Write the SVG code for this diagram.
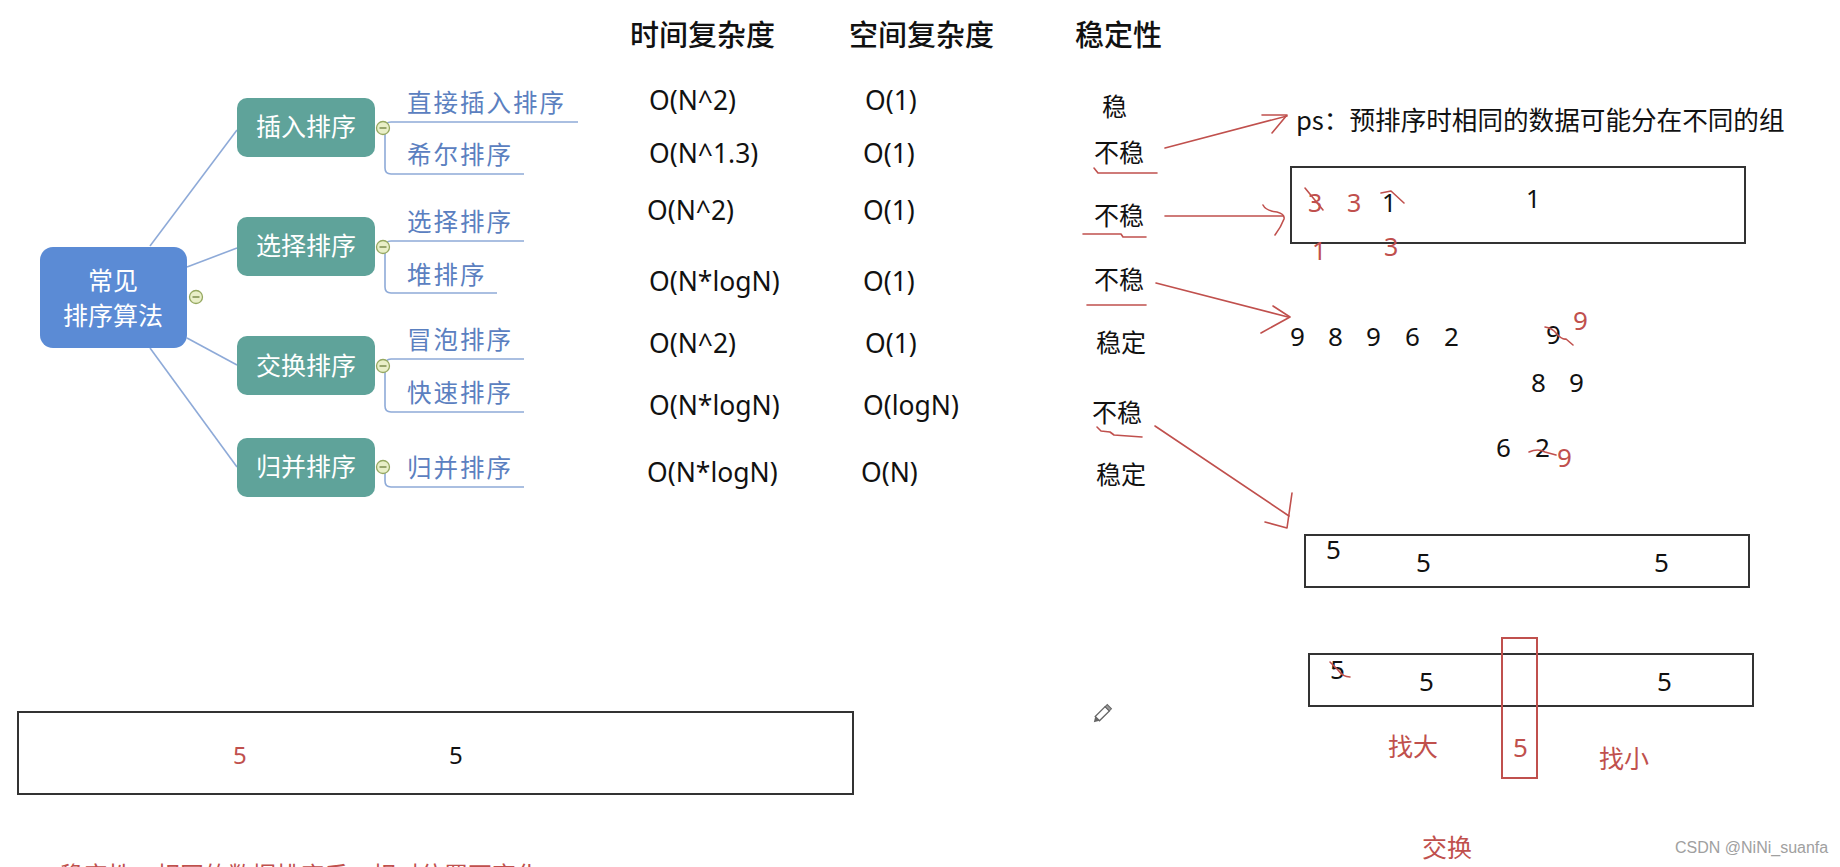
<svg xmlns="http://www.w3.org/2000/svg" width="1840" height="867" viewBox="0 0 1840 867">
<defs>
<style>
.cjk{font-family:"Noto Sans CJK SC","Noto Sans",sans-serif}
.lat{font-family:"Noto Sans","Noto Sans CJK SC",sans-serif}
.hdr{font-size:29px;fill:#111;font-weight:500}
.val{font-size:26.5px;fill:#111}
.stab{font-size:25px;fill:#111}
.root{fill:#5b8bd5}
.br{fill:#5fa39a}
.brt{font-size:25px;fill:#fff;text-anchor:middle}
.ch{font-size:24.5px;fill:#5b80c0;letter-spacing:2px}
.mm{fill:none;stroke:#8eaad8;stroke-width:1.6}
.tog{fill:#e9efc8;stroke:#95a860;stroke-width:1.3}
.togm{stroke:#6d7f3c;stroke-width:1.3}
.red{fill:none;stroke:#c0504d;stroke-width:1.6;stroke-linecap:round;stroke-linejoin:round}
.redt{fill:#c0504d}
.box{fill:none;stroke:#333;stroke-width:2}
.num{font-size:26px;fill:#111}
</style>
</defs>
<rect width="1840" height="867" fill="#fff"/>

<g id="connectors">
<path class="mm" d="M150,246 L237,130"/>
<path class="mm" d="M187,267 L237,248"/>
<path class="mm" d="M187,338 L237,365"/>
<path class="mm" d="M150,348 L237,467"/>
<path class="mm" d="M385,128 Q385,122 391,122 H578"/>
<path class="mm" d="M385,128 V168 Q385,174 391,174 H524"/>
<path class="mm" d="M385,247 Q385,241 391,241 H524"/>
<path class="mm" d="M385,247 V287 Q385,293 391,293 H497"/>
<path class="mm" d="M385,366 Q385,359 391,359 H524"/>
<path class="mm" d="M385,366 V406 Q385,412 391,412 H524"/>
<path class="mm" d="M385,467 V481 Q385,487 391,487 H524"/>
</g>

<g id="root">
<rect class="root" x="40" y="247" width="147" height="101" rx="13"/>
<text class="cjk brt" x="113" y="290">常见</text>
<text class="cjk brt" x="113" y="325">排序算法</text>
<circle class="tog" cx="196" cy="297" r="6.5"/><path class="togm" d="M192.5,297 H199.5"/>
</g>

<g id="n-insert">
<rect class="br" x="237" y="98" width="138" height="59" rx="10"/>
<text class="cjk brt" x="306" y="136">插入排序</text>
<circle class="tog" cx="383" cy="128" r="6.5"/><path class="togm" d="M379.5,128 H386.5"/>
</g>
<g id="n-select">
<rect class="br" x="237" y="217" width="138" height="59" rx="10"/>
<text class="cjk brt" x="306" y="255">选择排序</text>
<circle class="tog" cx="383" cy="247" r="6.5"/><path class="togm" d="M379.5,247 H386.5"/>
</g>
<g id="n-swap">
<rect class="br" x="237" y="336" width="138" height="59" rx="10"/>
<text class="cjk brt" x="306" y="375">交换排序</text>
<circle class="tog" cx="383" cy="366" r="6.5"/><path class="togm" d="M379.5,366 H386.5"/>
</g>
<g id="n-merge">
<rect class="br" x="237" y="438" width="138" height="59" rx="10"/>
<text class="cjk brt" x="306" y="476">归并排序</text>
<circle class="tog" cx="383" cy="467" r="6.5"/><path class="togm" d="M379.5,467 H386.5"/>
</g>

<g id="children">
<text class="cjk ch" x="407" y="112">直接插入排序</text>
<text class="cjk ch" x="407" y="164">希尔排序</text>
<text class="cjk ch" x="407" y="231">选择排序</text>
<text class="cjk ch" x="407" y="284">堆排序</text>
<text class="cjk ch" x="407" y="349">冒泡排序</text>
<text class="cjk ch" x="407" y="402">快速排序</text>
<text class="cjk ch" x="407" y="477">归并排序</text>
</g>

<g id="table">
<text class="cjk hdr" x="630" y="46">时间复杂度</text>
<text class="cjk hdr" x="849" y="46">空间复杂度</text>
<text class="cjk hdr" x="1075" y="46">稳定性</text>
<text class="lat val" x="649" y="110">O(N^2)</text>
<text class="lat val" x="649" y="163">O(N^1.3)</text>
<text class="lat val" x="647" y="220">O(N^2)</text>
<text class="lat val" x="649" y="291">O(N*logN)</text>
<text class="lat val" x="649" y="353">O(N^2)</text>
<text class="lat val" x="649" y="415">O(N*logN)</text>
<text class="lat val" x="647" y="482">O(N*logN)</text>
<text class="lat val" x="865" y="110">O(1)</text>
<text class="lat val" x="863" y="163">O(1)</text>
<text class="lat val" x="863" y="220">O(1)</text>
<text class="lat val" x="863" y="291">O(1)</text>
<text class="lat val" x="865" y="353">O(1)</text>
<text class="lat val" x="863" y="415">O(logN)</text>
<text class="lat val" x="861" y="482">O(N)</text>
<text class="cjk stab" x="1102" y="116">稳</text>
<text class="cjk stab" x="1094" y="162">不稳</text>
<text class="cjk stab" x="1094" y="225">不稳</text>
<text class="cjk stab" x="1094" y="289">不稳</text>
<text class="cjk stab" x="1096" y="352">稳定</text>
<text class="cjk stab" x="1092" y="422">不稳</text>
<text class="cjk stab" x="1096" y="484">稳定</text>
</g>

<g id="annotations">
<path class="red" d="M1094,168 L1098,173 H1157"/>
<path class="red" d="M1083,234 H1121 L1123,237 H1146"/>
<path class="red" d="M1087,305 H1146"/>
<path class="red" d="M1097,427 L1101,431 L1110,432 L1114,435 L1142,437"/>
<path class="red" d="M1165,148 L1287,116"/>
<path class="red" d="M1262,115 L1287,115 L1272,133"/>
<path class="red" d="M1165,216 H1283"/>
<path class="red" d="M1263,205 Q1266,211 1277,212 Q1285,214 1284,219 Q1281,227 1275,235"/>
<path class="red" d="M1156,283 L1288,317"/>
<path class="red" d="M1273,306 L1290,317 L1261,333"/>
<path class="red" d="M1155,426 L1289,516"/>
<path class="red" d="M1292,493 L1287,528 L1265,522"/>
</g>

<g id="ps-note">
<text class="cjk" x="1296" y="130" font-size="25.6" fill="#111">ps：预排序时相同的数据可能分在不同的组</text>
</g>

<g id="box1">
<rect class="box" x="1291" y="167" width="454" height="76"/>
<text class="lat redt" x="1308" y="212" font-size="25">3</text>
<path class="red" d="M1305,188 L1323,210"/>
<text class="lat redt" x="1347" y="212" font-size="25">3</text>
<text class="lat" x="1382" y="212" font-size="25" fill="#111">1</text>
<path class="red" d="M1381,193 L1391,191 L1404,203"/>
<text class="lat" x="1526" y="208" font-size="25" fill="#111">1</text>
<text class="lat redt" x="1312" y="260" font-size="25">1</text>
<text class="lat redt" x="1384" y="256" font-size="25">3</text>
</g>

<g id="heap-demo">
<text class="lat num" x="1290" y="346">9</text>
<text class="lat num" x="1328" y="346">8</text>
<text class="lat num" x="1366" y="346">9</text>
<text class="lat num" x="1405" y="346">6</text>
<text class="lat num" x="1444" y="346">2</text>
<text class="lat num" x="1546" y="344">9</text>
<path class="red" d="M1545,327 Q1552,328 1556,333 Q1562,340 1566,339 L1573,345"/>
<text class="lat redt" x="1573" y="330" font-size="26">9</text>
<text class="lat num" x="1531" y="392">8</text>
<text class="lat num" x="1569" y="392">9</text>
<text class="lat num" x="1496" y="457">6</text>
<text class="lat num" x="1535" y="457">2</text>
<path class="red" d="M1529,452 Q1538,448 1545,452 L1556,455"/>
<text class="lat redt" x="1557" y="467" font-size="26">9</text>
</g>

<g id="box2">
<rect class="box" x="1305" y="535" width="444" height="52"/>
<text class="lat num" x="1326" y="559">5</text>
<text class="lat num" x="1416" y="572">5</text>
<text class="lat num" x="1654" y="572">5</text>
</g>

<g id="box3">
<rect class="box" x="1309" y="654" width="444" height="52"/>
<text class="lat num" x="1330" y="679">5</text>
<path class="red" d="M1330,662 L1338,670 Q1343,677 1350,677"/>
<text class="lat num" x="1419" y="691">5</text>
<text class="lat num" x="1657" y="691">5</text>
<rect x="1502" y="638" width="35" height="140" fill="none" stroke="#c0504d" stroke-width="2"/>
<text class="lat redt" x="1513" y="757" font-size="26">5</text>
<text class="cjk redt" x="1388" y="756" font-size="25">找大</text>
<text class="cjk redt" x="1599" y="768" font-size="25">找小</text>
<text class="cjk redt" x="1422" y="857" font-size="25">交换</text>
</g>

<g id="box4">
<rect class="box" x="18" y="712" width="835" height="82"/>
<text class="lat redt" x="233" y="764" font-size="24">5</text>
<text class="lat" x="449" y="764" font-size="24" fill="#111">5</text>
</g>

<g id="pencil">
<g transform="translate(1103,713) rotate(-45)">
<rect x="-8" y="-3" width="14" height="6" fill="#fff" stroke="#666" stroke-width="1.3"/>
<path d="M-8,-3 L-13,0 L-8,3 Z" fill="#666"/>
<rect x="6" y="-3" width="3" height="6" fill="#999" stroke="#666" stroke-width="1"/>
</g>
</g>

<g id="footer">
<text class="cjk redt" x="60" y="884" font-size="24">稳定性：相同的数据排序后，相对位置不变化</text>
<text x="1675" y="853" font-family="Liberation Sans, sans-serif" font-size="16" fill="#a0a0a0">CSDN @NiNi_suanfa</text>
</g>
</svg>
